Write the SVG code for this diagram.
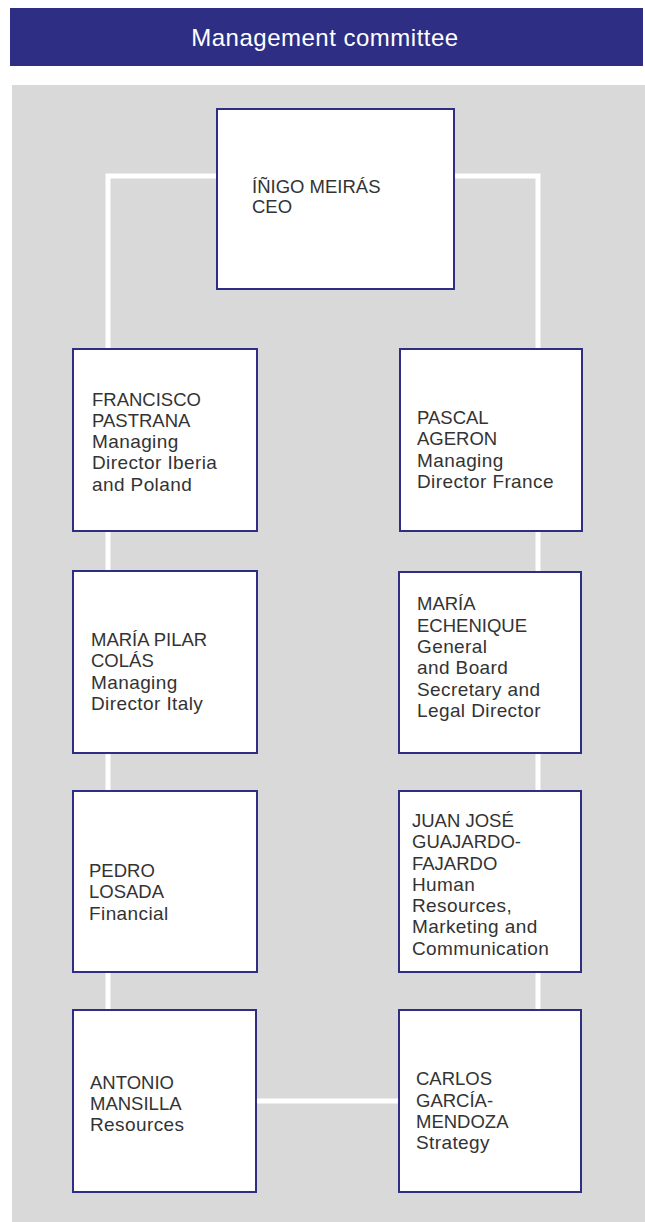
<svg xmlns="http://www.w3.org/2000/svg" width="645" height="1222" viewBox="0 0 645 1222">
<style>
.box{fill:#ffffff;stroke:#2e2f84;stroke-width:2}
.t{font-family:"Liberation Sans",Arial,sans-serif;font-size:19px;letter-spacing:0.4px;fill:#333333}
.n{font-size:18.5px;letter-spacing:0px}
.conn{fill:none;stroke:#ffffff;stroke-width:5}
</style>
<rect x="0" y="0" width="645" height="1222" fill="#ffffff"/>
<g id="header">
<rect x="10" y="8" width="633" height="58" fill="#2e2f84"/>
<text x="325" y="46" text-anchor="middle" font-family="'Liberation Sans',Arial,sans-serif" font-size="24" letter-spacing="0.5" fill="#ffffff">Management committee</text>
</g>
<rect id="panel" x="12" y="85" width="633" height="1137" fill="#d9d9d9"/>
<g id="connectors">
<path class="conn" d="M217,176 H108 V1010"/>
<path class="conn" d="M454,176 H538 V1010"/>
<path class="conn" d="M256,1101 H399"/>
</g>
<g id="ceo">
<rect class="box" x="217" y="109" width="237" height="180"/>
<text class="t"><tspan class="n" x="252" y="193">ÍÑIGO MEIRÁS</tspan><tspan class="n" x="252" y="213">CEO</tspan></text>
</g>
<g id="francisco">
<rect class="box" x="73" y="349" width="184" height="182"/>
<text class="t"><tspan class="n" x="92" y="406">FRANCISCO</tspan><tspan class="n" x="92" y="427">PASTRANA</tspan><tspan x="92" y="448">Managing</tspan><tspan x="92" y="469">Director Iberia</tspan><tspan x="92" y="491">and Poland</tspan></text>
</g>
<g id="pascal">
<rect class="box" x="400" y="349" width="182" height="182"/>
<text class="t"><tspan class="n" x="417" y="424">PASCAL</tspan><tspan class="n" x="417" y="445">AGERON</tspan><tspan x="417" y="467">Managing</tspan><tspan x="417" y="488">Director France</tspan></text>
</g>
<g id="maria-pilar">
<rect class="box" x="73" y="571" width="184" height="182"/>
<text class="t"><tspan class="n" x="91" y="646">MARÍA PILAR</tspan><tspan class="n" x="91" y="667">COLÁS</tspan><tspan x="91" y="689">Managing</tspan><tspan x="91" y="710">Director Italy</tspan></text>
</g>
<g id="maria-echenique">
<rect class="box" x="399" y="572" width="182" height="181"/>
<text class="t"><tspan class="n" x="417" y="610">MARÍA</tspan><tspan class="n" x="417" y="632">ECHENIQUE</tspan><tspan x="417" y="653">General</tspan><tspan x="417" y="674">and Board</tspan><tspan x="417" y="696">Secretary and</tspan><tspan x="417" y="717">Legal Director</tspan></text>
</g>
<g id="pedro">
<rect class="box" x="73" y="791" width="184" height="181"/>
<text class="t"><tspan class="n" x="89" y="877">PEDRO</tspan><tspan class="n" x="89" y="898">LOSADA</tspan><tspan x="89" y="920">Financial</tspan></text>
</g>
<g id="juan-jose">
<rect class="box" x="399" y="791" width="182" height="181"/>
<text class="t"><tspan class="n" x="412" y="827">JUAN JOSÉ</tspan><tspan class="n" x="412" y="848">GUAJARDO-</tspan><tspan class="n" x="412" y="870">FAJARDO</tspan><tspan x="412" y="891">Human</tspan><tspan x="412" y="912">Resources,</tspan><tspan x="412" y="933">Marketing and</tspan><tspan x="412" y="955">Communication</tspan></text>
</g>
<g id="antonio">
<rect class="box" x="73" y="1010" width="183" height="182"/>
<text class="t"><tspan class="n" x="90" y="1089">ANTONIO</tspan><tspan class="n" x="90" y="1110">MANSILLA</tspan><tspan x="90" y="1131">Resources</tspan></text>
</g>
<g id="carlos">
<rect class="box" x="399" y="1010" width="182" height="182"/>
<text class="t"><tspan class="n" x="416" y="1085">CARLOS</tspan><tspan class="n" x="416" y="1107">GARCÍA-</tspan><tspan class="n" x="416" y="1128">MENDOZA</tspan><tspan x="416" y="1149">Strategy</tspan></text>
</g>
</svg>
